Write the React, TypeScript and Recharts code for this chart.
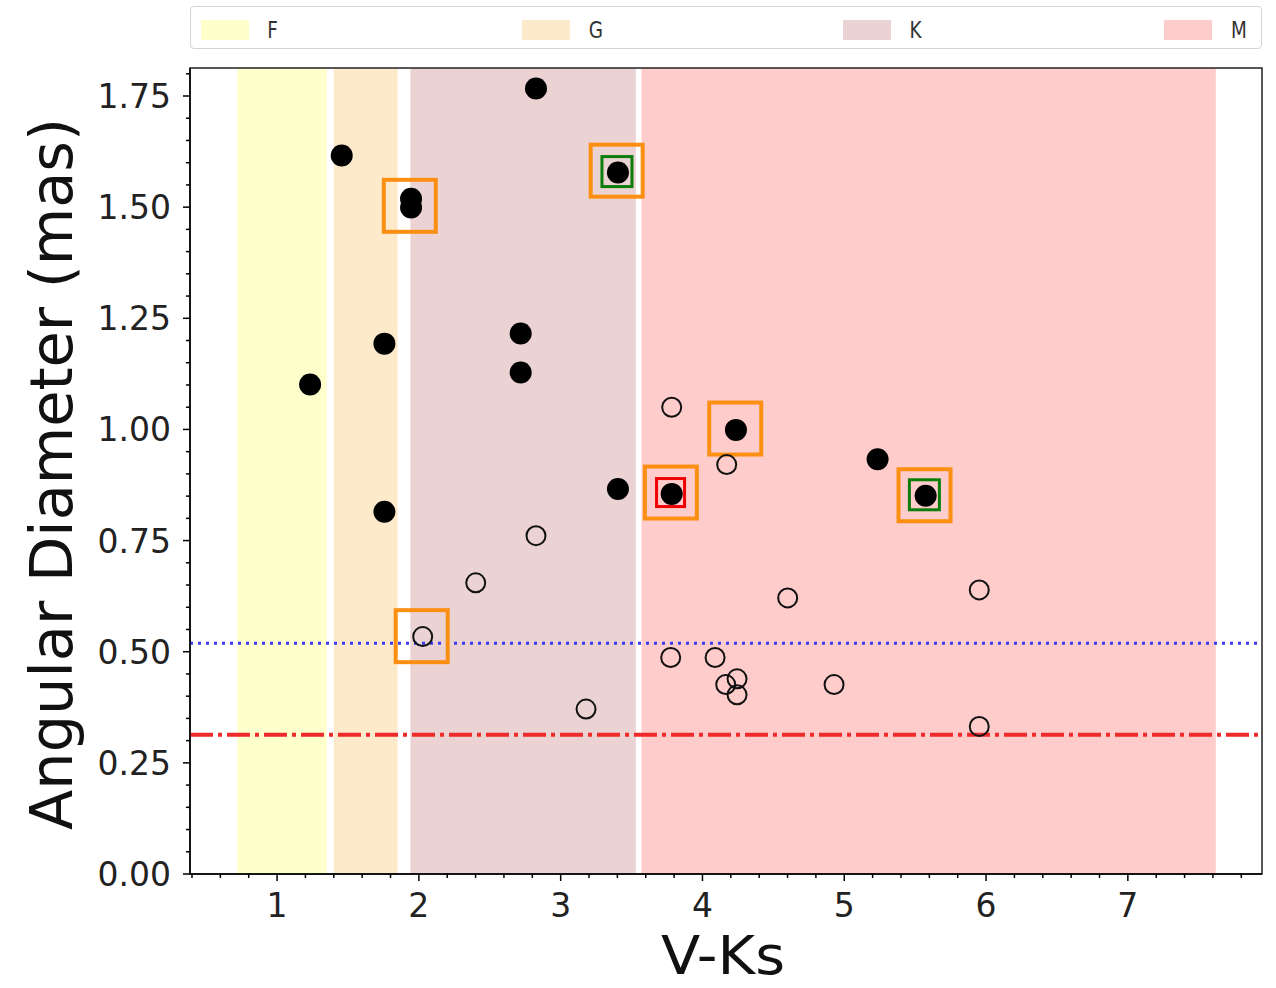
import { ScatterChart, Scatter, XAxis, YAxis, ReferenceArea, ReferenceLine, Label } from 'recharts';

const xDomain = [0.386, 7.946];
const yDomain = [0, 1.813];
const xMajorTicks = [1, 2, 3, 4, 5, 6, 7];
const yMajorTicks = [0, 0.25, 0.5, 0.75, 1.0, 1.25, 1.5, 1.75];

// spectral type bands (V-Ks ranges)
const bandNames = ['F', 'G', 'K', 'M'];
const bandStart = [0.72, 1.4, 1.94, 3.57];
const bandEnd = [1.35, 1.85, 3.53, 7.62];
const bandColors = ['#ffffcc', '#fdeacb', '#ebd2d3', '#ffcccc'];

const limitDotted = 0.519;
const limitDashDot = 0.313;

// filled points
const filledX = [1.233, 1.456, 1.757, 1.757, 1.945, 1.945, 2.826, 2.718, 2.718, 3.404, 3.404, 3.783, 4.236, 5.235, 5.574];
const filledY = [1.101, 1.616, 1.193, 0.815, 1.519, 1.499, 1.767, 1.216, 1.128, 1.578, 0.866, 0.855, 0.999, 0.933, 0.851];

// open points
const openX = [3.783, 4.171, 2.826, 2.401, 2.027, 3.179, 3.776, 4.601, 5.952, 4.089, 4.164, 4.244, 4.244, 4.928, 5.952];
const openY = [1.05, 0.921, 0.761, 0.655, 0.534, 0.371, 0.487, 0.621, 0.639, 0.487, 0.426, 0.439, 0.403, 0.426, 0.332];

// highlight boxes
const orangeX = [1.936, 3.395, 4.231, 3.777, 5.566, 2.02];
const orangeY = [1.503, 1.582, 1.002, 0.858, 0.852, 0.535];
const greenX = [3.397, 5.565];
const greenY = [1.58, 0.853];
const redX = [3.775];
const redY = [0.858];

const toPoints = (xs: number[], ys: number[]) => xs.map((x, i) => ({ x, y: ys[i] }));

const stepTicks = (lo: number, hi: number, step: number) => {
  const out: number[] = [];
  for (let v = Math.ceil(lo / step - 1e-9) * step; v <= hi + 1e-9; v += step) {
    out.push(Math.round(v * 1000) / 1000);
  }
  return out;
};

const xTicks = stepTicks(0.4, 7.9, 0.2);
const yTicks = stepTicks(0, 1.8, 0.05);

const isMajor = (list: number[], v: number) => list.some((t) => Math.abs(t - v) < 1e-6);

const FONT = 'DejaVu Sans, sans-serif';

const XTick = (props: any) => {
  const { x, y, payload } = props;
  const major = isMajor(xMajorTicks, payload.value);
  return (
    <g>
      <line x1={x} x2={x} y1={y} y2={y + (major ? 7 : 4)} stroke="#000" strokeWidth={1.5} />
      {major && (
        <text x={x} y={y + 43} textAnchor="middle" fontSize={33} fill="#222" fontFamily={FONT}>
          {payload.value}
        </text>
      )}
    </g>
  );
};

const YTick = (props: any) => {
  const { x, y, payload } = props;
  const major = isMajor(yMajorTicks, payload.value);
  return (
    <g>
      <line x1={x} x2={x - (major ? 7 : 4)} y1={y} y2={y} stroke="#000" strokeWidth={1.5} />
      {major && (
        <text x={x - 19} y={y + 12} textAnchor="end" fontSize={33} fill="#222" fontFamily={FONT}>
          {payload.value.toFixed(2)}
        </text>
      )}
    </g>
  );
};

const box = (size: number, color: string, width: number) => (props: any) => {
  const { cx, cy } = props;
  return (
    <rect x={cx - size / 2} y={cy - size / 2} width={size} height={size} fill="none" stroke={color} strokeWidth={width} />
  );
};

const filledDot = (props: any) => <circle cx={props.cx} cy={props.cy} r={11} fill="#000" />;
const openDot = (props: any) => <circle cx={props.cx} cy={props.cy} r={9.5} fill="none" stroke="#111" strokeWidth={2} />;

function LegendBox() {
  return (
    <div
      style={{
        position: 'absolute',
        left: 190,
        top: 6,
        width: 1072,
        height: 43,
        border: '1px solid #d4d4d4',
        borderRadius: 4,
        background: '#fff',
        boxSizing: 'border-box',
      }}
    >
      {bandNames.map((name, i) => (
        <div key={name} style={{ position: 'absolute', left: 10 + i * 321, top: 10, display: 'flex', alignItems: 'center' }}>
          <div style={{ width: 48, height: 20, background: bandColors[i] }} />
          <span style={{ marginLeft: 17, fontFamily: FONT, fontSize: 23, color: '#333', transform: 'scaleX(0.8)', display: 'inline-block' }}>
            {name}
          </span>
        </div>
      ))}
    </div>
  );
}

export default function App() {
  return (
    <div style={{ position: 'relative', width: 1276, height: 988, background: '#fff' }}>
      <style>{'body{margin:0}'}</style>
      <ScatterChart width={1276} height={988} margin={{ top: 68, right: 14, bottom: 74, left: 110 }}>
        {bandNames.map((name, i) => (
          <ReferenceArea
            key={name}
            x1={bandStart[i]}
            x2={bandEnd[i]}
            y1={yDomain[0]}
            y2={yDomain[1]}
            fill={bandColors[i]}
            fillOpacity={1}
            stroke="none"
            ifOverflow="hidden"
          />
        ))}
        <ReferenceLine y={limitDotted} stroke="#3b3bf0" strokeWidth={3} strokeDasharray="3 5" />
        <ReferenceLine y={limitDashDot} stroke="#ee2a2a" strokeWidth={4} strokeDasharray="23 5 4 5" />
        <XAxis
          type="number"
          dataKey="x"
          domain={xDomain}
          ticks={xTicks}
          interval={0}
          allowDataOverflow
          height={40}
          tickSize={0}
          tickMargin={0}
          tickLine={false}
          tick={<XTick />}
          axisLine={{ stroke: '#000', strokeWidth: 1.5 }}
        >
          <Label
            content={() => (
              <text x={723} y={974} textAnchor="middle" fontSize={54} fill="#111" fontFamily={FONT} textLength={124} lengthAdjust="spacingAndGlyphs">
                V-Ks
              </text>
            )}
          />
        </XAxis>
        <YAxis
          type="number"
          dataKey="y"
          domain={yDomain}
          ticks={yTicks}
          interval={0}
          allowDataOverflow
          width={80}
          tickSize={0}
          tickMargin={0}
          tickLine={false}
          tick={<YTick />}
          axisLine={{ stroke: '#000', strokeWidth: 1.5 }}
        >
          <Label
            content={() => (
              <text
                x={72}
                y={474}
                transform="rotate(-90 72 474)"
                textAnchor="middle"
                fontSize={58}
                fill="#111"
                fontFamily={FONT}
                textLength={712}
                lengthAdjust="spacingAndGlyphs"
              >
                Angular Diameter (mas)
              </text>
            )}
          />
        </YAxis>
        <ReferenceArea
          x1={xDomain[0]}
          x2={xDomain[1]}
          y1={yDomain[0]}
          y2={yDomain[1]}
          fill="none"
          fillOpacity={0}
          stroke="#222"
          strokeWidth={1.5}
        />
        <Scatter data={toPoints(orangeX, orangeY)} shape={box(52, '#fb8f12', 4)} isAnimationActive={false} />
        <Scatter data={toPoints(greenX, greenY)} shape={box(30, '#0a7d0a', 3)} isAnimationActive={false} />
        <Scatter data={toPoints(redX, redY)} shape={box(28, '#f00000', 3)} isAnimationActive={false} />
        <Scatter data={toPoints(openX, openY)} shape={openDot} isAnimationActive={false} />
        <Scatter data={toPoints(filledX, filledY)} shape={filledDot} isAnimationActive={false} />
      </ScatterChart>
      <LegendBox />
    </div>
  );
}
